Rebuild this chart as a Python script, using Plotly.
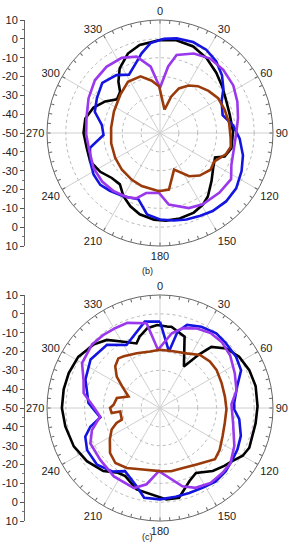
import plotly.graph_objects as go

# ---------------- data (dB vs azimuth angle, degrees) ----------------
b_black_theta = [0, 10, 21, 32, 43, 53, 65, 75, 89, 102, 110, 114, 123, 133, 143, 149, 157, 167, 176, 184,
                 194, 202, 210, 218, 227, 237, 248, 258, 270, 281, 291, 300, 308, 316, 321, 328, 338, 347]
b_black_r = [-0.6, 0, -0.8, -3.2, -6.2, -8.7, -11, -11.7, -11.2, -11.2, -13.5, -18, -16.3, -12.6, -7.8, -5.7, -4.1, -3.4, -3.4, -3.9,
             -5.5, -8, -11.2, -15.4, -15, -12.2, -10, -10.3, -9.4, -9.6, -12.2, -16.4, -21, -19.5, -14.9, -9.6, -4.5, -2]

b_blue_theta = [2, 10, 20, 29, 38, 47, 55, 63, 74, 84, 94, 105, 115, 126, 136, 146, 154, 163, 171, 180,
                189, 198, 210, 221, 229, 238, 248, 258, 268, 278, 288, 299, 311, 323, 332, 342, 347, 354]
b_blue_r = [0, 1, 1.4, 0.6, -1.6, -5, -8.9, -13.3, -15.4, -11, -7.6, -4.4, -2.2, 0, 0.5, 0, -1.1, -2, -3, -4.1,
            -6.2, -13, -11.2, -9.4, -8, -8.4, -10, -12, -20, -18.8, -13.6, -11.7, -9.4, -11.5, -14.9, -10.1, -6.6, -2]

b_purple_theta = [0, 7, 12, 23, 34, 45, 57, 68, 79, 89, 101, 114, 123, 135, 149, 159, 173, 181, 193, 200,
                  207, 219, 230, 242, 256, 269, 282, 296, 309, 321, 333, 343, 352]
b_purple_r = [-26, -14.4, -7.6, -4.1, -2.3, -2.5, -3.6, -5.7, -7.8, -9.4, -9.9, -8.5, -5, -5.3, -5.9, -7.3, -11.7, -18.2, -17.3, -13.1,
              -11.7, -10.5, -9.9, -10.1, -11.3, -10.8, -10.1, -7.8, -5.5, -4.8, -5.2, -7.6, -14.4]

b_brown_theta = [11, 17, 23, 31, 39, 49, 59, 70, 82, 94, 101, 108, 118, 126, 137, 146, 159, 171, 181, 199,
                 211, 226, 241, 258, 276, 295, 314, 328, 341, 351, 359]
b_brown_r = [-37.4, -29.8, -24.3, -20.6, -18, -15.9, -14, -13.5, -12.9, -12.4, -11.7, -13.3, -17.5, -16.8, -19.1, -22.3, -29.2, -19.6, -19.1, -20.2,
             -21, -21.9, -22.8, -23.5, -23.9, -23, -20.7, -17.9, -18.2, -21.9, -25.3]

c_black_theta = [5, 8, 19, 30, 36, 40, 48, 57, 67, 77, 89, 99, 114, 120, 126, 132, 140, 151, 158, 168,
                 176, 196, 207, 213, 222, 234, 246, 259, 270, 281, 291, 302, 314, 322, 330, 340, 344, 351, 358]
c_black_r = [-6.6, -6.4, -9.9, -24.6, -14.9, -7.6, -2.7, 0.1, 1.5, 2.1, 1.8, 1.4, 1.9, 0.7, -2.3, -4.1, -6.4, -10.6, -8.2, -1.3,
             -1.3, -5, -9.4, -9, -5, -2, 0.1, 1.2, 2.1, 2.1, 1.9, 1.2, -1.3, -4.1, -9.2, -13.5, -10.6, -7.1, -5.9]

c_blue_theta = [0, 9, 13, 18, 27, 37, 45, 56, 65, 74, 86, 91, 98, 109, 118, 125, 134, 143, 152, 161,
                170, 180, 190, 197, 209, 217, 228, 240, 249, 255, 261, 267, 274, 291, 305, 320, 332, 350]
c_blue_r = [-4.1, -19.6, -8.3, -3.6, -1.6, -0.4, -0.9, -1.3, -2.5, -7.3, -10.5, -10.6, -7.5, -4.6, -3.4, -2.8, -1.6, -1.1, -2, -2.3,
            -2.2, -1.5, -1.6, -6.8, -11.7, -7.8, -5, -5.3, -7.5, -11.7, -17.9, -15.6, -11.9, -7.6, -5, -6.2, -12.1, -3.4]

c_purple_theta = [358, 9, 16, 25, 34, 43, 53, 65, 77, 87, 102, 117, 128, 136, 146, 156, 164, 181, 190, 198,
                  214, 229, 243, 252, 262, 271, 281, 290, 300, 313, 322, 331, 339, 351]
c_purple_r = [-19.1, -9.8, -5.9, -3.4, -2, -2, -3.4, -6.2, -8.3, -12, -10.3, -5.7, -2.5, -2.2, -2, -3.6, -6.8, -16.5, -8.9, -5.3,
              -6.2, -8, -8.5, -12, -17.9, -14.7, -8.7, -6.8, -2.2, -0.6, -0.9, -1.4, -1.6, -4.4]

c_brown_theta = [0, 13, 26, 37, 47, 56, 68, 80, 91, 103, 114, 125, 133, 147, 159, 170, 180, 198, 209, 219,
                 228, 238, 246, 251, 253, 265, 264, 270, 274, 283, 290, 300, 306, 313, 320, 325, 337, 350]
c_brown_r = [-19.1, -19.1, -17.7, -14.7, -13.8, -13.8, -14.7, -15, -14.7, -14.7, -13.6, -11.3, -10.1, -14.3, -15.9, -15.9, -16.5, -15.8, -13.6, -12.4,
             -14.3, -18.6, -21.9, -25.6, -28.8, -28.8, -24.2, -23.5, -25.3, -26.5, -32.2, -26.7, -21.6, -17.5, -15.6, -16.5, -18.4, -19.5]

angle_ticks = list(range(0, 360, 30))
angle_labels = [str(a) for a in angle_ticks]
db_tick_pos = [-60, -50, -40, -30, -20, -10, 0, 10, 20, 30, 40, 50, 60]
db_tick_labels = [str(int(-50 + abs(v))) for v in db_tick_pos]

R_MIN, R_MAX = -50, 10
COLORS = {"black": "#000000", "blue": "#1414e0", "purple": "#9a38ec", "brown": "#9a3a0a"}
FONT = "Liberation Sans, Arial, sans-serif"

panels = [
    ("polar", "polar3", "x", "y", [0.5527, 0.9636], "(b)",
     [(b_black_theta, b_black_r, "black"), (b_blue_theta, b_blue_r, "blue"),
      (b_purple_theta, b_purple_r, "purple"), (b_brown_theta, b_brown_r, "brown")]),
    ("polar2", "polar4", "x2", "y2", [0.0527, 0.4636], "(c)",
     [(c_black_theta, c_black_r, "black"), (c_blue_theta, c_blue_r, "blue"),
      (c_purple_theta, c_purple_r, "purple"), (c_brown_theta, c_brown_r, "brown")]),
]

fig = go.Figure()
W, H = 292, 550
xdom = [47 / W, 273 / W]

for pol, tickpol, xa, ya, ydom, label, series in panels:
    for th, rr, col in series:
        fig.add_trace(go.Scatterpolar(
            theta=list(th) + [th[0]], r=list(rr) + [rr[0]], mode="lines",
            line=dict(color=COLORS[col], width=2.6), subplot=pol,
            showlegend=False, hoverinfo="skip"))
    # empty traces so the minor-tick ring and side dB axis are drawn
    fig.add_trace(go.Scatterpolar(theta=[None], r=[None], subplot=tickpol,
                                  showlegend=False, hoverinfo="skip"))
    fig.add_trace(go.Scatter(x=[None], y=[None], xaxis=xa, yaxis=ya,
                             showlegend=False, hoverinfo="skip"))

    fig.layout[pol] = dict(
        domain=dict(x=xdom, y=ydom), bgcolor="rgba(0,0,0,0)",
        angularaxis=dict(rotation=90, direction="clockwise", tickmode="array",
                         tickvals=angle_ticks, ticktext=angle_labels, ticks="",
                         showline=True, linecolor="#666", linewidth=1,
                         gridcolor="#cfcfcf", gridwidth=1,
                         tickfont=dict(family=FONT, size=11, color="#222")),
        radialaxis=dict(range=[R_MIN, R_MAX], tickvals=[-40, -30, -20, -10, 0],
                        showticklabels=False, ticks="", showline=False,
                        gridcolor="#b8b8b8", griddash="dot", gridwidth=1),
    )
    fig.layout[tickpol] = dict(
        domain=dict(x=xdom, y=ydom), bgcolor="rgba(0,0,0,0)",
        angularaxis=dict(rotation=90, direction="clockwise", tickmode="array",
                         tickvals=list(range(0, 360, 5)), showticklabels=False,
                         ticks="inside", ticklen=3, tickcolor="#666",
                         showgrid=False, showline=False),
        radialaxis=dict(visible=False, range=[R_MIN, R_MAX]),
    )
    xkey = "xaxis" if xa == "x" else "xaxis2"
    ykey = "yaxis" if ya == "y" else "yaxis2"
    fig.layout[xkey] = dict(domain=[25 / W, 27 / W], visible=False, anchor=ya,
                            range=[0, 1], automargin=False)
    fig.layout[ykey] = dict(
        domain=ydom, anchor=xa, range=[-60, 60], tickmode="array", automargin=False,
        tickvals=db_tick_pos, ticktext=db_tick_labels, ticks="outside", ticklen=4,
        tickcolor="#555", showline=True, linecolor="#666", linewidth=1,
        showgrid=False, zeroline=False,
        minor=dict(tickvals=[v for v in range(-60, 61, 5) if v % 10], ticks="outside",
                   ticklen=2, tickcolor="#777", showgrid=False),
        tickfont=dict(family=FONT, size=11, color="#222"),
    )
    fig.add_annotation(text=label, x=147 / W, y=1 - ((271 if label == "(b)" else 544) / H),
                       xref="paper", yref="paper", showarrow=False,
                       font=dict(family=FONT, size=9, color="#222"))

fig.update_layout(width=W, height=H, margin=dict(l=0, r=0, t=0, b=0, autoexpand=False),
                  paper_bgcolor="white", plot_bgcolor="white", showlegend=False)

fig.write_html("out.html", config={"displayModeBar": False},
               post_script="document.body.style.margin='0';document.body.style.overflow='hidden';")
